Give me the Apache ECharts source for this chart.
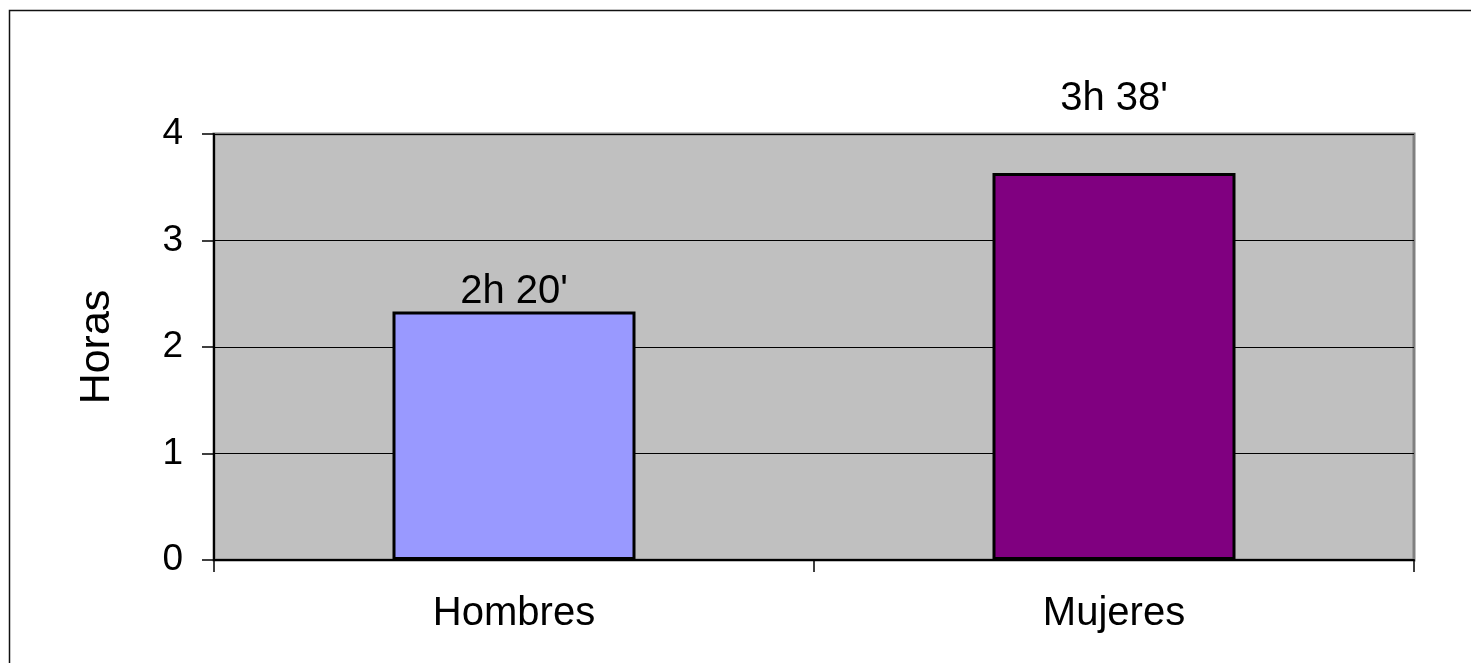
<!DOCTYPE html>
<html>
<head>
<meta charset="utf-8">
<script src="https://cdn.jsdelivr.net/npm/echarts@6/dist/echarts.min.js"></script>
<style>
  html, body { margin: 0; padding: 0; background: #fff; }
  #chart { width: 1471px; height: 663px; }
</style>
</head>
<body>
<div id="chart"></div>
<script>
// datos
const categories = ['Hombres', 'Mujeres']
const horas = [2.333, 3.633]
const etiquetas = ["2h 20'", "3h 38'"]
const yTicks = [0, 1, 2, 3, 4]

const barColors = ['#9999FF', '#800080']
const labelOffsets = [[0, 4], [0, -50]]

const chart = echarts.init(document.getElementById('chart'))
const font = 'Liberation Sans, Arial, sans-serif'

const option = {
  animation: false,
  backgroundColor: '#fff',
  graphic: [
    {
      type: 'rect',
      shape: { x: 9.5, y: 10.5, width: 1500, height: 700 },
      style: { fill: 'none', stroke: '#111', lineWidth: 1.5 },
      z: 100
    }
  ],
  grid: {
    left: 214,
    right: 57,
    top: 134,
    bottom: 103,
    show: true,
    backgroundColor: '#C0C0C0',
    borderColor: '#808080',
    borderWidth: 3
  },
  xAxis: {
    type: 'category',
    data: categories,
    axisLine: { lineStyle: { color: '#000', width: 2 } },
    axisTick: { show: true, length: 12, lineStyle: { color: '#000', width: 1.5 } },
    axisLabel: { color: '#000', fontSize: 40, fontFamily: font, margin: 34 },
    splitLine: { show: false }
  },
  yAxis: {
    type: 'value',
    min: yTicks[0],
    max: yTicks[yTicks.length - 1],
    interval: 1,
    name: 'Horas',
    nameLocation: 'middle',
    nameRotate: 90,
    nameGap: 95,
    nameTextStyle: { color: '#000', fontSize: 43, fontFamily: font },
    axisLine: { show: true, lineStyle: { color: '#000', width: 2 } },
    axisTick: { show: true, length: 12, lineStyle: { color: '#000', width: 1.5 } },
    axisLabel: { color: '#000', fontSize: 37, fontFamily: font, margin: 31, padding: [8, 0, 0, 0] },
    splitLine: { show: true, lineStyle: { color: '#000', width: 1 } }
  },
  series: [
    {
      type: 'bar',
      barWidth: '40.5%',
      data: horas.map((v, i) => ({
        value: v,
        itemStyle: { color: barColors[i] },
        label: { formatter: etiquetas[i], offset: labelOffsets[i] }
      })),
      itemStyle: { borderColor: '#000', borderWidth: 3 },
      label: {
        show: true,
        position: 'top',
        distance: 4,
        color: '#000',
        fontSize: 40,
        fontFamily: font
      }
    }
  ]
}

chart.setOption(option)
</script>
</body>
</html>
